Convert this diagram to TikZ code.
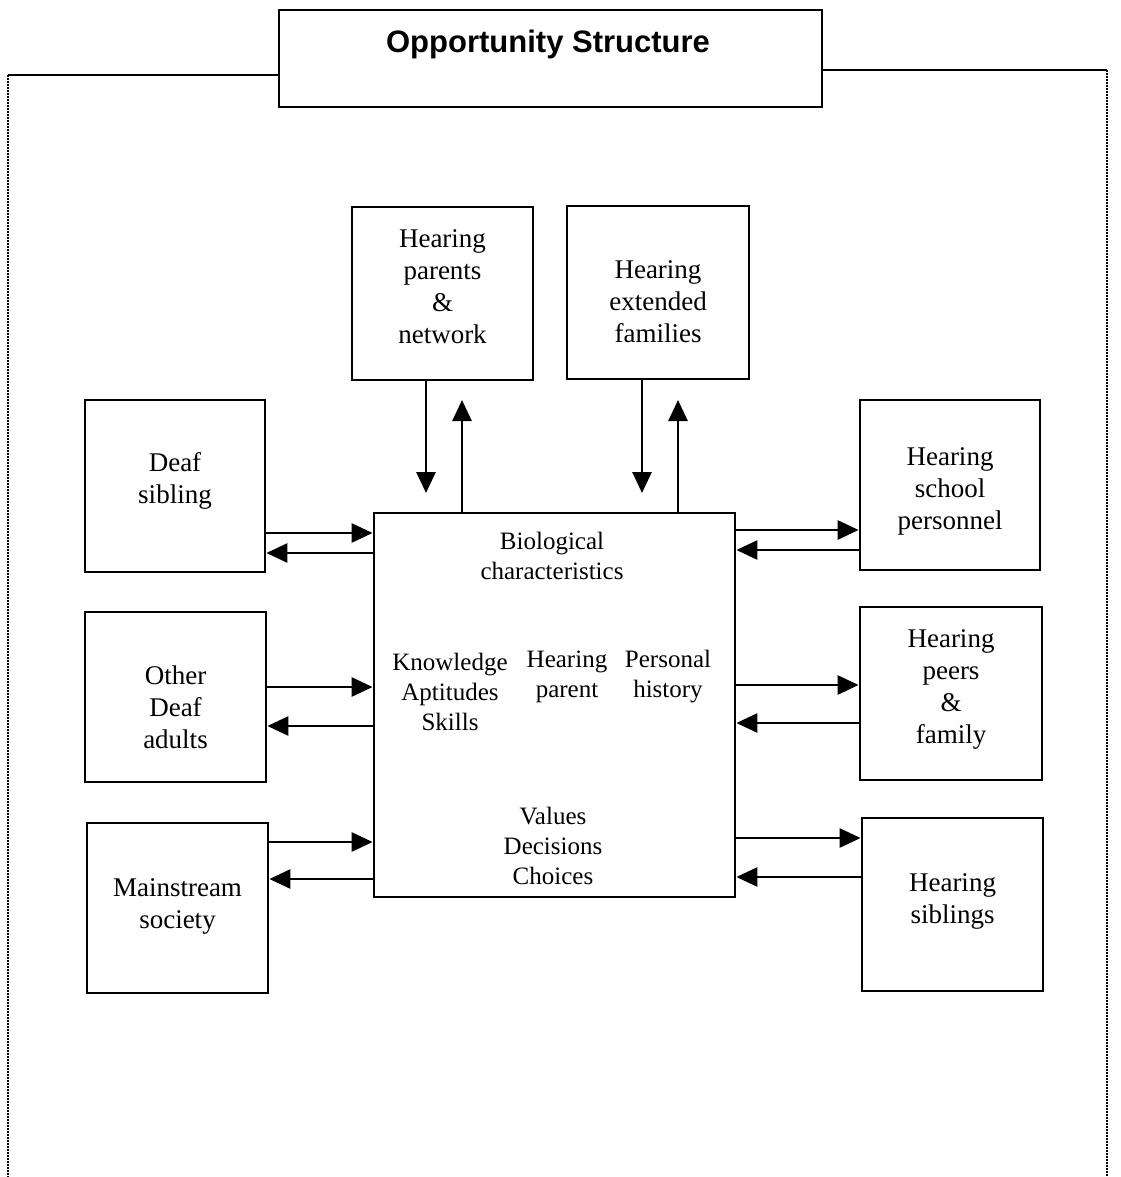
\documentclass[tikz,border=0pt]{standalone}
\usepackage{fontspec}
\setmainfont{Liberation Serif}
\newfontfamily\headfont{Liberation Sans}
\usetikzlibrary{arrows.meta}

\begin{document}
\begin{tikzpicture}[x=1pt,y=-1pt,
  box/.style={draw, line width=2.8pt, inner sep=0pt},
  boxtext/.style={align=center, inner sep=0pt, font=\fontsize{27}{32}\selectfont},
  inner/.style={align=center, inner sep=0pt, font=\fontsize{25}{30}\selectfont},
  arr/.style={line width=2.8pt, -{Triangle[length=21pt,width=19pt]}},
  frame/.style={line width=1.8pt},
  dotframe/.style={line width=2pt, densely dotted}]

\useasboundingbox (0,0) rectangle (1120,1177);

% title box
\node[box, minimum width=543pt, minimum height=97pt] (title) at (550.5,58.5) {};
\node[font=\headfont\bfseries\fontsize{31}{36}\selectfont, inner sep=0pt] (titletext) at (548,44) {Opportunity Structure};

% surrounding frame
\coordinate (fl) at (8,75);
\coordinate (fr) at (1107,70);
\coordinate (flb) at (8,1177);
\coordinate (frb) at (1107,1177);
\draw[frame] (fl) -- (title.west |- fl);
\draw[frame] (title.east |- fr) -- (fr);
\draw[dotframe] (fl) -- (flb);
\draw[dotframe] (fr) -- (frb);

% top boxes
\node[box, minimum width=181pt, minimum height=173pt] (hp) at (442.5,293.5) {};
\node[boxtext] (hpT) at (442.5,287) {Hearing\\parents\\\&\\network};
\node[box, minimum width=182pt, minimum height=173pt] (hef) at (658,292.5) {};
\node[boxtext] (hefT) at (658,302) {Hearing\\extended\\families};

% left boxes
\node[box, minimum width=180pt, minimum height=172pt] (ds) at (175,486) {};
\node[boxtext] (dsT) at (175,481) {Deaf\\sibling};
\node[box, minimum width=181pt, minimum height=170pt] (oda) at (175.5,697) {};
\node[boxtext] (odaT) at (175.5,707) {Other\\Deaf\\adults};
\node[box, minimum width=181pt, minimum height=170pt] (ms) at (177.5,908) {};
\node[boxtext] (msT) at (177.5,906) {Mainstream\\society};

% right boxes
\node[box, minimum width=180pt, minimum height=170pt] (hsp) at (950,485) {};
\node[boxtext] (hspT) at (950,491) {Hearing\\school\\personnel};
\node[box, minimum width=182pt, minimum height=173pt] (hpf) at (951,693.5) {};
\node[boxtext] (hpfT) at (951,689) {Hearing\\peers\\\&\\family};
\node[box, minimum width=181pt, minimum height=173pt] (hs) at (952.5,904.5) {};
\node[boxtext] (hsT) at (952.5,901) {Hearing\\siblings};

% central box and its contents
\node[box, minimum width=361pt, minimum height=384pt] (self) at (554.5,705) {};
\node[inner] (bio) at (552,556) {Biological\\characteristics};
\node[inner] (kas) at (450,692) {Knowledge\\Aptitudes\\Skills};
\node[inner] (hpar) at (567,677) {Hearing\\parent};
\node[inner] (ph) at (668,677) {Personal\\history};
\node[inner] (vdc) at (553,846) {Values\\Decisions\\Choices};

% vertical arrows (top boxes)
\coordinate (dn1) at (426,493);
\coordinate (up1) at (462,400);
\coordinate (dn2) at (642,493);
\coordinate (up2) at (678,400);
\draw[arr] (hp.south -| dn1) -- (dn1);
\draw[arr] (self.north -| up1) -- (up1);
\draw[arr] (hef.south -| dn2) -- (dn2);
\draw[arr] (self.north -| up2) -- (up2);

% horizontal arrows (left side)
\coordinate (dsA) at (0,533);  \coordinate (dsB) at (0,553);
\coordinate (odaA) at (0,687); \coordinate (odaB) at (0,726);
\coordinate (msA) at (0,842);  \coordinate (msB) at (0,879);
\draw[arr] (ds.east |- dsA) -- (self.west |- dsA);
\draw[arr] (self.west |- dsB) -- (ds.east |- dsB);
\draw[arr] (oda.east |- odaA) -- (self.west |- odaA);
\draw[arr] (self.west |- odaB) -- (oda.east |- odaB);
\draw[arr] (ms.east |- msA) -- (self.west |- msA);
\draw[arr] (self.west |- msB) -- (ms.east |- msB);

% horizontal arrows (right side)
\coordinate (hspA) at (0,530); \coordinate (hspB) at (0,550);
\coordinate (hpfA) at (0,685); \coordinate (hpfB) at (0,723);
\coordinate (hsA) at (0,838);  \coordinate (hsB) at (0,877);
\draw[arr] (self.east |- hspA) -- (hsp.west |- hspA);
\draw[arr] (hsp.west |- hspB) -- (self.east |- hspB);
\draw[arr] (self.east |- hpfA) -- (hpf.west |- hpfA);
\draw[arr] (hpf.west |- hpfB) -- (self.east |- hpfB);
\draw[arr] (self.east |- hsA) -- (hs.west |- hsA);
\draw[arr] (hs.west |- hsB) -- (self.east |- hsB);

\end{tikzpicture}
\end{document}
